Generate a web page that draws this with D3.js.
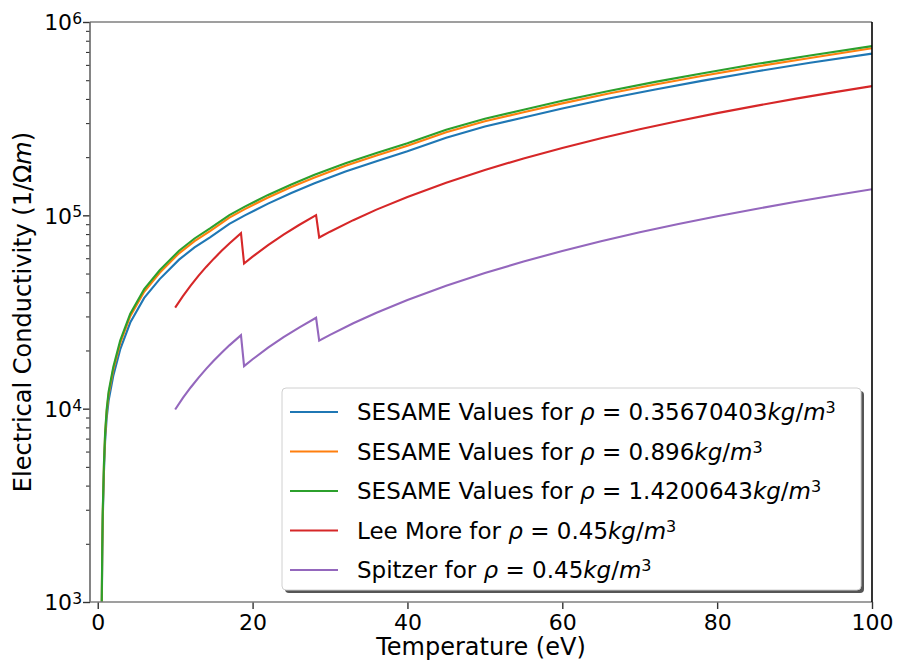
<!DOCTYPE html>
<html>
<head>
<meta charset="utf-8">
<script src="https://cdn.jsdelivr.net/npm/d3@7"></script>
<style>
  html, body { margin: 0; padding: 0; background: #fff; }
  svg { display: block; font-family: "DejaVu Sans", sans-serif; }
</style>
</head>
<body>
<svg id="chart" width="899" height="664"></svg>
<script>
// Temperature grid (eV) for the SESAME tables
const sesameT = [0.45, 0.52, 0.58, 0.65, 0.8, 0.95, 1.15, 1.4, 2, 2.9, 4.2, 6, 8, 10.5, 12.5, 14.5, 17, 19, 22, 25, 28, 32, 36, 40, 45, 50, 55, 60, 66, 72, 78, 85, 92, 100];
// Electrical conductivity (1/Ohm m) from SESAME at three densities
const sesameLow  = [550, 900, 1700, 2700, 4680, 6750, 8900, 10980, 14760, 20250, 27900, 37400, 46800, 59000, 68300, 77000, 90300, 100000, 115000, 130500, 146500, 168500, 190500, 214500, 252000, 288000, 321000, 357000, 402000, 448000, 496000, 555000, 615000, 686000];
const sesameMid  = [580, 970, 1840, 2910, 5040, 7280, 9600, 11830, 15900, 21800, 30100, 40200, 50400, 63600, 73600, 82900, 97300, 107700, 123700, 140200, 157100, 180400, 203700, 228900, 268700, 306500, 341400, 379300, 426800, 475300, 525700, 587800, 650900, 731000];
const sesameHigh = [600, 1000, 1900, 3000, 5200, 7500, 9900, 12200, 16400, 22500, 31000, 41500, 52000, 65600, 75900, 85500, 100300, 111000, 127500, 144500, 162000, 186000, 210000, 236000, 277000, 316000, 352000, 391000, 440000, 490000, 542000, 606000, 671000, 750000];

// Model temperatures (eV), including the ionization jumps near 18.5 and 28.5 eV
const modelT = [10, 11, 12, 13, 14, 15, 16, 17, 18.5, 18.9, 20, 22, 24, 26, 28.2, 28.6, 30, 33, 36, 40, 45, 50, 55, 60, 65, 70, 75, 80, 85, 90, 95, 100];
const leeMore = [33300, 38200, 43300, 48600, 54100, 59700, 65500, 71500, 80800, 56300, 61100, 70100, 79400, 89100, 100200, 76800, 82300, 94400, 107000, 124500, 147500, 171600, 197000, 223200, 250300, 278800, 307700, 337800, 368400, 400400, 432400, 465900];
const spitzer = [9900, 11360, 12870, 14440, 16070, 17750, 19480, 21260, 24010, 16600, 18010, 20670, 23420, 26280, 29530, 22500, 24100, 27650, 31340, 36470, 43220, 50290, 57710, 65390, 73350, 81680, 90140, 99000, 107930, 117320, 126680, 136500];

const xTicks = [0, 20, 40, 60, 80, 100];
const yMajor = [1e3, 1e4, 1e5, 1e6];

const seriesList = [
  { name: "SESAME Values for ", dens: "0.35670403", t: sesameT, v: sesameLow,  color: "#1f77b4" },
  { name: "SESAME Values for ", dens: "0.896",      t: sesameT, v: sesameMid,  color: "#ff7f0e" },
  { name: "SESAME Values for ", dens: "1.4200643",  t: sesameT, v: sesameHigh, color: "#2ca02c" },
  { name: "Lee More for ",      dens: "0.45",       t: modelT,  v: leeMore,    color: "#d62728" },
  { name: "Spitzer for ",       dens: "0.45",       t: modelT,  v: spitzer,    color: "#9467bd" }
];

const svg = d3.select("#chart");
const m = { left: 90, right: 872, top: 22, bottom: 602 };

const x = d3.scaleLinear().domain([-1, 100]).range([m.left, m.right]);
const y = d3.scaleLog().domain([1e3, 1e6]).range([m.bottom, m.top]);

svg.append("defs").append("clipPath").attr("id", "plotClip")
  .append("rect")
  .attr("x", m.left).attr("y", m.top)
  .attr("width", m.right - m.left).attr("height", m.bottom - m.top);

// Curves
const line = d3.line().x(d => x(d[0])).y(d => y(d[1]));
const curves = svg.append("g").attr("clip-path", "url(#plotClip)");
seriesList.forEach(s => {
  curves.append("path")
    .datum(s.t.map((t, i) => [t, s.v[i]]))
    .attr("d", line)
    .attr("fill", "none")
    .attr("stroke", s.color)
    .attr("stroke-width", 2.1)
    .attr("stroke-linejoin", "miter");
});

// X axis
const xAxis = svg.append("g")
  .attr("transform", `translate(0,${m.bottom})`)
  .call(d3.axisBottom(x).tickValues(xTicks).tickSize(7).tickPadding(5).tickFormat(d3.format("d")));
xAxis.select(".domain").remove();
xAxis.selectAll(".tick line").attr("stroke", "#333").attr("stroke-width", 1.4);
xAxis.selectAll(".tick text")
  .attr("font-family", "DejaVu Sans").attr("font-size", 22).attr("fill", "#000");

// Y axis: minor ticks
const minor = [];
[1e3, 1e4, 1e5].forEach(dec => { for (let k = 2; k <= 9; k++) minor.push(dec * k); });
const yMinor = svg.append("g").attr("transform", `translate(${m.left},0)`)
  .call(d3.axisLeft(y).tickValues(minor).tickSize(4).tickFormat(""));
yMinor.select(".domain").remove();
yMinor.selectAll(".tick line").attr("stroke", "#333").attr("stroke-width", 1.1);

// Y axis: major ticks with power-of-ten labels
const yAxis = svg.append("g").attr("transform", `translate(${m.left},0)`)
  .call(d3.axisLeft(y).tickValues(yMajor).tickSize(7).tickFormat(""));
yAxis.select(".domain").remove();
yAxis.selectAll(".tick line").attr("stroke", "#333").attr("stroke-width", 1.4);
yAxis.selectAll(".tick").each(function(d) {
  const t = d3.select(this).append("text")
    .attr("x", -8).attr("y", 0).attr("dy", "0.36em")
    .attr("text-anchor", "end")
    .attr("font-family", "DejaVu Sans").attr("font-size", 22).attr("fill", "#000");
  t.append("tspan").text("10");
  t.append("tspan").attr("dy", "-0.42em").attr("font-size", 15.5).text(Math.round(Math.log10(d)));
});

// Spines
const spine = (x1, y1, x2, y2, c) => svg.append("line")
  .attr("x1", x1).attr("y1", y1).attr("x2", x2).attr("y2", y2)
  .attr("stroke", c).attr("stroke-width", 1.6);
spine(m.left, m.top, m.right, m.top, "#7f7f7f");
spine(m.left, m.top, m.left, m.bottom, "#666");
spine(m.left, m.bottom, m.right, m.bottom, "#7f7f7f");
spine(m.right, m.top, m.right, m.bottom, "#000");

// Axis labels
svg.append("text")
  .attr("x", (m.left + m.right) / 2).attr("y", 655)
  .attr("text-anchor", "middle")
  .attr("font-family", "DejaVu Sans").attr("font-size", 24).attr("fill", "#000")
  .text("Temperature (eV)");

const yl = svg.append("text")
  .attr("transform", `translate(31,${(m.top + m.bottom) / 2}) rotate(-90)`)
  .attr("text-anchor", "middle")
  .attr("font-family", "DejaVu Sans").attr("font-size", 24).attr("fill", "#000");
yl.append("tspan").text("Electrical Conductivity (1/Ω");
yl.append("tspan").attr("font-style", "italic").text("m");
yl.append("tspan").text(")");

// Legend
const lg = { x: 282, y: 388, w: 579, h: 202 };
const legend = svg.append("g");
legend.append("rect")
  .attr("x", lg.x + 3).attr("y", lg.y + 3).attr("width", lg.w).attr("height", lg.h)
  .attr("rx", 4).attr("fill", "#555");
legend.append("rect")
  .attr("x", lg.x).attr("y", lg.y).attr("width", lg.w).attr("height", lg.h)
  .attr("rx", 4).attr("fill", "#fff").attr("stroke", "#d0d0d0").attr("stroke-width", 1);

seriesList.forEach((s, i) => {
  const cy = 412 + i * 39.5;
  legend.append("line")
    .attr("x1", 290).attr("x2", 338).attr("y1", cy).attr("y2", cy)
    .attr("stroke", s.color).attr("stroke-width", 2.1);
  const t = legend.append("text")
    .attr("x", 357).attr("y", cy).attr("dy", "0.36em")
    .attr("font-family", "DejaVu Sans").attr("font-size", 23).attr("fill", "#000");
  t.append("tspan").text(s.name);
  t.append("tspan").attr("font-style", "italic").text("ρ");
  t.append("tspan").text(" = " + s.dens);
  t.append("tspan").attr("font-style", "italic").text("kg");
  t.append("tspan").text("/");
  t.append("tspan").attr("font-style", "italic").text("m");
  t.append("tspan").attr("dy", "-0.45em").attr("font-size", 16).text("3");
});
</script>
</body>
</html>
